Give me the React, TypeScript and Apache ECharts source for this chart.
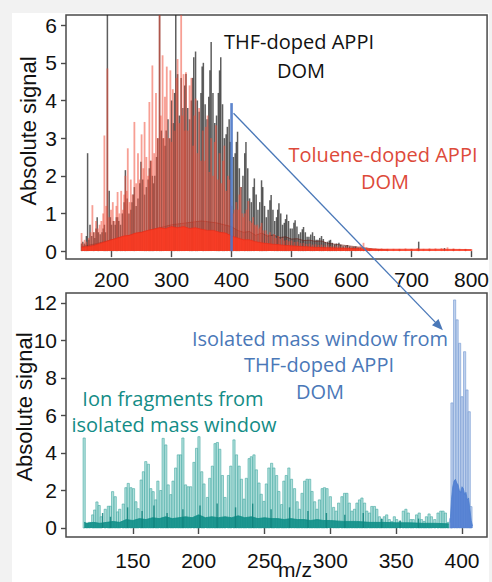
import React, { useEffect, useRef } from "react";
import * as echarts from "echarts";

// ---------- top panel data (m/z, absolute signal) ----------
const thfPeaks: [number, number][] = [
  [150,0.2],[152,0.25],[155,0.2],[158,0.4],[160,2.6],[162,0.3],[164,0.7],[167,0.4],[170,0.5],[172,0.35],[174,0.6],[176,0.9],[178,0.5],[181,0.45],[184,0.5],[186,0.6],[188,0.7],[190,0.5],[193,6.5],[196,1.6],[198,0.9],[200,0.7],[203,0.8],[206,0.7],[208,0.9],[210,0.9],[212,0.8],[215,0.7],[218,1.0],[221,1.3],[223,2.15],[226,1.4],[229,1.0],[232,1.1],[234,1.3],[236,1.5],[238,1.7],[241,1.2],[244,1.4],[247,1.8],[249,2.37],[252,1.9],[255,1.5],[258,1.7],[261,1.9],[263,2.2],[265,2.4],[268,2.0],[270,1.8],[272,2.0],[275,2.5],[277,3.0],[280,6.5],[283,3.2],[286,3.0],[289,2.8],[291,3.2],[294,3.5],[297,3.0],[300,4.0],[303,3.4],[305,4.2],[307,6.5],[310,4.7],[313,3.6],[316,4.6],[319,3.8],[322,4.4],[324,4.7],[327,3.8],[330,3.5],[333,4.0],[335,4.6],[337,5.15],[340,5.3],[343,4.0],[346,3.7],[349,4.2],[351,4.9],[353,5.0],[356,3.9],[359,3.5],[362,4.1],[364,4.8],[366,5.55],[369,4.2],[372,3.4],[375,3.6],[378,4.2],[380,4.8],[382,5.15],[385,3.9],[388,3.0],[391,3.1],[393,3.3],[396,3.5],[398,2.9],[403,2.5],[406,2.6],[408,2.9],[410,3.17],[413,2.2],[416,1.7],[419,2.0],[422,2.6],[424,2.9],[427,2.2],[430,1.4],[433,1.3],[436,1.7],[438,1.93],[441,1.5],[444,1.1],[447,1.3],[450,1.88],[452,1.7],[455,1.2],[458,0.9],[461,1.1],[464,1.35],[466,1.49],[469,1.1],[472,0.8],[475,0.9],[477,1.1],[479,1.27],[482,1.0],[485,0.7],[488,0.75],[490,0.85],[492,0.97],[495,0.8],[498,0.6],[501,0.6],[504,0.75],[506,0.82],[509,0.65],[512,0.45],[515,0.5],[518,0.58],[520,0.64],[523,0.5],[526,0.38],[529,0.38],[532,0.44],[535,0.5],[538,0.4],[541,0.3],[544,0.3],[547,0.35],[550,0.4],[553,0.32],[556,0.24],[560,0.25],[563,0.28],[565,0.3],[568,0.22],[572,0.18],[575,0.2],[579,0.22],[582,0.17],[586,0.13],[590,0.14],[593,0.16],[597,0.12],[601,0.1],[604,0.11],[607,0.12],[611,0.09],[615,0.08],[620,0.08],[630,0.05],[645,0.04],[660,0.04],[680,0.04],[700,0.05],[712,0.25],[730,0.04],[755,0.08],[770,0.05],[790,0.04]
];

const thfBase: [number, number][] = [
  [150,0.12],[175,0.2],[200,0.3],[225,0.4],[250,0.5],[275,0.6],[300,0.7],[325,0.75],[350,0.8],[375,0.75],[400,0.65],[410,0.55],[420,0.5],[430,0.52],[440,0.42],[450,0.48],[460,0.4],[470,0.43],[480,0.36],[490,0.38],[500,0.32],[510,0.33],[520,0.28],[530,0.29],[540,0.26],[550,0.27],[560,0.21],[570,0.19],[580,0.17],[590,0.15],[600,0.13],[610,0.11],[620,0.09],[640,0.05],[660,0.03]
];

const toluenePeaks: [number, number][] = [
  [150,0.48],[152,0.2],[155,0.3],[158,0.25],[162,0.35],[165,0.5],[168,1.22],[171,0.5],[174,0.8],[177,0.6],[180,0.7],[183,0.8],[186,1.0],[188,3.07],[191,1.2],[193,4.85],[196,0.9],[199,1.1],[202,1.3],[205,0.8],[208,1.2],[210,1.57],[213,1.0],[216,1.6],[219,1.1],[221,1.5],[223,2.0],[225,1.6],[227,2.73],[230,1.3],[232,1.9],[235,1.5],[238,3.43],[241,1.8],[244,2.6],[247,1.9],[250,3.1],[253,2.2],[255,3.43],[258,2.5],[261,2.0],[263,3.96],[266,2.4],[268,4.93],[271,2.6],[274,4.2],[277,3.0],[280,6.4],[282,3.6],[285,5.2],[287,3.0],[289,4.1],[292,4.9],[295,3.0],[298,4.8],[300,2.9],[302,4.3],[305,3.2],[308,4.6],[310,5.1],[313,3.4],[316,6.4],[318,3.6],[320,4.7],[322,3.2],[324,4.75],[327,3.2],[330,4.4],[333,4.6],[336,2.8],[338,3.6],[340,4.05],[343,2.6],[346,3.8],[349,2.4],[352,3.2],[355,2.4],[357,3.3],[360,3.6],[363,2.1],[366,3.0],[369,2.0],[372,2.9],[374,3.34],[377,1.9],[380,2.6],[383,1.8],[386,2.4],[388,2.8],[391,1.6],[394,2.0],[397,1.9],[400,1.2],[402,1.0],[405,1.1],[408,1.3],[411,1.1],[413,1.5],[415,1.7],[418,1.0],[420,0.9],[422,1.0],[425,1.1],[428,1.33],[431,0.8],[434,0.75],[436,0.9],[439,0.7],[441,0.65],[443,0.7],[446,0.6],[448,0.65],[450,0.75],[453,0.55],[457,0.55],[460,0.45],[464,0.5],[467,0.4],[471,0.45],[474,0.35],[478,0.4],[481,0.32],[485,0.35],[488,0.28],[492,0.3],[496,0.26],[500,0.28],[505,0.24],[510,0.25],[515,0.21],[520,0.22],[525,0.19],[530,0.2],[535,0.17],[540,0.18],[545,0.16],[550,0.17],[555,0.15],[560,0.15],[565,0.14],[570,0.14],[575,0.13],[580,0.13],[585,0.12],[590,0.12],[595,0.11],[600,0.12],[605,0.1],[610,0.11],[615,0.15],[620,0.22],[625,0.1],[632,0.08],[640,0.07],[650,0.07],[660,0.06],[670,0.06],[680,0.06],[690,0.07],[700,0.06],[710,0.08],[720,0.06],[730,0.07],[740,0.07],[750,0.08],[760,0.1],[770,0.07],[780,0.06],[790,0.06],[800,0.05]
];

const tolueneBase: [number, number][] = [
  [150,0.1],[160,0.12],[170,0.15],[180,0.2],[190,0.25],[200,0.3],[210,0.35],[220,0.4],[230,0.42],[240,0.48],[250,0.5],[260,0.55],[270,0.58],[280,0.62],[290,0.6],[300,0.65],[310,0.62],[320,0.65],[330,0.6],[340,0.62],[350,0.58],[360,0.55],[370,0.55],[380,0.5],[390,0.48],[400,0.4],[410,0.35],[420,0.3],[430,0.3],[440,0.25],[450,0.22],[460,0.2],[470,0.18],[480,0.17],[490,0.15],[500,0.14],[520,0.12],[540,0.1],[560,0.09],[580,0.08],[600,0.07],[620,0.06],[650,0.05],[700,0.05],[750,0.05],[800,0.04]
];

const isolatedWindowTop: [number, number][] = [[400, 3.93]];

// ---------- bottom panel data ----------
const fragmentPeaks: [number, number][] = [
  [113,4.8],[115,0.25],[117,0.3],[119.5,0.7],[121,0.96],[122.7,1.39],[124.4,1.2],[126,0.6],[129,1.0],[131.4,1.16],[132.9,1.16],[134.6,1.94],[136.6,1.67],[138.4,0.86],[140,1.0],[142.7,1.28],[144.7,2.15],[146.5,2.38],[148.5,2.15],[150.5,2.1],[152.3,1.4],[154,1.03],[156.3,2.56],[158,3.0],[159.8,3.54],[161.8,3.4],[163.6,2.1],[165.4,1.94],[167.4,1.5],[169,2.5],[171.2,2.0],[173,4.78],[175,4.43],[176.8,2.3],[178.8,1.78],[180.5,2.5],[182.5,3.2],[184.5,3.9],[186.3,3.9],[188,4.8],[190,2.3],[192,2.2],[193.9,2.2],[196.4,3.5],[198.4,4.25],[200.2,4.87],[202.3,3.0],[204,2.35],[206.6,1.63],[208.4,2.65],[210.4,3.3],[212.4,4.5],[214.2,4.56],[216,4.2],[218,2.8],[220,1.63],[222.6,2.8],[224.4,3.3],[226.8,4.7],[228.7,3.9],[230.7,3.3],[232.5,2.6],[234.5,1.54],[236.2,2.65],[238.3,3.7],[240,3.8],[242,3.9],[243.8,3.1],[245.8,2.4],[247.5,1.8],[249.6,1.42],[251.4,2.35],[253.3,3.2],[255.4,3.45],[257.1,3.2],[259.2,2.8],[260.9,1.95],[263,1.25],[264.7,2.5],[266.5,2.8],[268.5,3.2],[270.5,2.6],[272.8,2.1],[274.8,1.4],[276.5,1.0],[278.5,1.85],[280.5,2.5],[282.3,2.6],[284.3,2.6],[286.1,1.95],[288.1,1.4],[289.9,1.0],[291.7,1.5],[293.8,2.1],[295.5,2.15],[297.5,2.1],[300,1.67],[302.5,1.1],[304.5,0.9],[306.3,1.33],[308.8,1.67],[310.8,1.85],[312.6,1.85],[314.4,1.33],[316.4,0.9],[318.4,1.0],[320.2,1.33],[322.2,1.5],[324,1.6],[326,1.33],[327.7,0.9],[329.8,0.8],[331.5,1.15],[333.5,1.15],[335.3,1.0],[337.3,0.6],[339,0.45],[341,0.6],[342.8,0.7],[344.8,0.45],[346.6,0.35],[348.6,0.6],[350.4,0.45],[352.9,0.35],[355.4,0.9],[357.4,1.0],[359.2,0.8],[361.2,0.45],[363,0.45],[365.5,0.7],[367.5,0.8],[369.3,0.45],[371.3,0.35],[373,0.6],[375,0.75],[376.8,0.6],[379.3,0.45],[381.8,0.8],[383.9,0.9],[385.6,0.9],[387.4,0.8],[389.5,0.3]
];

const fragmentDarkPeaks: [number, number][] = [
  [127,0.8],[133,0.6],[146,1.1],[157,0.9],[166,1.2],[176,0.8],[188,1.0],[201,1.2],[214,1.3],[228,1.1],[241,1.3],[255,1.0],[269,1.1],[283,0.9],[297,0.8],[311,0.7],[325,0.8],[339,0.5],[353,0.4],[367,0.5]
];

const fragmentBase: [number, number][] = [
  [113,0.3],[115,0.25],[120,0.3],[125,0.25],[130,0.3],[135,0.35],[140,0.3],[145,0.45],[150,0.4],[155,0.5],[160,0.45],[165,0.55],[170,0.5],[175,0.6],[180,0.5],[185,0.55],[190,0.6],[195,0.55],[200,0.7],[205,0.55],[210,0.6],[215,0.55],[220,0.6],[225,0.55],[230,0.65],[235,0.55],[240,0.6],[245,0.5],[250,0.55],[255,0.5],[260,0.5],[265,0.45],[270,0.5],[275,0.45],[280,0.45],[285,0.4],[290,0.45],[295,0.4],[300,0.4],[310,0.35],[320,0.35],[330,0.3],[340,0.3],[350,0.28],[360,0.28],[370,0.25],[380,0.25],[390,0.22]
];

const windowPeaks: [number, number][] = [
  [391.5,0.5],[392.4,6.67],[394.4,12.16],[396.3,11.1],[398.2,9.85],[400,7.0],[402,9.4],[403.8,7.36],[405.5,6.2],[406.8,1.14]
];

const windowBase: [number, number][] = [
  [391,0.3],[392,1.5],[393,2.2],[394,2.5],[395,2.6],[396,2.4],[397,2.3],[398,2.0],[399,1.9],[400,2.2],[401,2.1],[402,1.8],[403,1.9],[404,1.5],[405,1.6],[406,1.0],[407,0.4],[408,0.1]
];

// arrow from the isolated window (top panel) to its spectrum (bottom panel)
const arrowStart: [number, number] = [403.3, 3.66];
const arrowEnd: [number, number] = [385.5, 10.55];

// ---------- ticks ----------
const topXTicks = [200, 300, 400, 500, 600, 700, 800];
const topYTicks = [0, 1, 2, 3, 4, 5, 6];
const botXTicks = [150, 200, 250, 300, 350, 400];
const botYTicks = [0, 2, 4, 6, 8, 10, 12];

const AXIS_FONT = "'Liberation Sans', Arial, sans-serif";
const NOTE_FONT = "'Open Sans', 'Noto Sans', sans-serif";

function stick(width: number, fill: string, stroke?: string) {
  return (params: any, api: any) => {
    const x = api.value(0);
    const y = api.value(1);
    const top = api.coord([x, y]);
    const base = api.coord([x, 0]);
    const cs = params.coordSys;
    const yTop = Math.max(top[1], cs.y);
    return {
      type: "rect",
      shape: { x: top[0] - width / 2, y: yTop, width, height: Math.max(0, base[1] - yTop) },
      style: { fill, stroke: stroke || null, lineWidth: stroke ? 0.6 : 0 },
    };
  };
}

function xAxisCfg(gridIndex: number, min: number, max: number, ticks: number[], margin: number) {
  return {
    type: "value", gridIndex, min, max,
    axisLine: { show: false },
    splitLine: { show: false },
    axisTick: { show: true, inside: false, length: 6, customValues: ticks, lineStyle: { color: "#4a4a4a", width: 1.4 } },
    axisLabel: { customValues: ticks, fontSize: 21, color: "#111", fontFamily: AXIS_FONT, margin },
  };
}
function yAxisCfg(gridIndex: number, min: number, max: number, ticks: number[]) {
  return {
    type: "value", gridIndex, min, max,
    axisLine: { show: false },
    splitLine: { show: false },
    axisTick: { show: true, inside: false, length: 5, customValues: ticks, lineStyle: { color: "#4a4a4a", width: 1.4 } },
    axisLabel: { customValues: ticks, fontSize: 21, color: "#111", fontFamily: AXIS_FONT, margin: 9 },
  };
}

function area(xi: number, data: [number, number][], line: string, fill: string, z: number) {
  return {
    type: "line", xAxisIndex: xi, yAxisIndex: xi, data, showSymbol: false, z,
    lineStyle: { width: 0.8, color: line },
    areaStyle: { color: fill, opacity: 1 },
    silent: true,
  };
}

function note(text: string, x: number, y: number, color: string, size = 20) {
  return {
    type: "text", x, y, z: 50,
    style: { text, fill: color, font: `${size}px ${NOTE_FONT}`, align: "center", verticalAlign: "middle" },
  };
}

export default function App() {
  const ref = useRef<HTMLDivElement>(null);
  useEffect(() => {
    if (!ref.current) return;
    const chart = echarts.init(ref.current, undefined, { renderer: "svg" });
    chart.setOption({
      animation: false,
      backgroundColor: "transparent",
      grid: [
        { left: 66, top: 15, width: 422, height: 244, show: true, borderColor: "#4a4a4a", borderWidth: 1.5, backgroundColor: "transparent" },
        { left: 66, top: 293, width: 421, height: 244, show: true, borderColor: "#4a4a4a", borderWidth: 1.5, backgroundColor: "transparent" },
      ],
      xAxis: [xAxisCfg(0, 124, 826, topXTicks, 10), xAxisCfg(1, 99.2, 419, botXTicks, 13)],
      yAxis: [yAxisCfg(0, -0.21, 6.27, topYTicks), yAxisCfg(1, -0.48, 12.53, botYTicks)],
      series: [
        { type: "custom", xAxisIndex: 0, yAxisIndex: 0, data: thfPeaks, renderItem: stick(1.5, "rgba(40,40,40,0.75)"), z: 2 },
        area(0, thfBase, "rgba(110,25,15,0.7)", "rgba(80,40,35,0.35)", 3),
        { type: "custom", xAxisIndex: 0, yAxisIndex: 0, data: toluenePeaks, renderItem: stick(1.8, "rgba(240,80,60,0.55)"), z: 4 },
        area(0, tolueneBase, "rgba(235,45,25,0.9)", "rgba(255,55,30,0.85)", 5),
        { type: "custom", xAxisIndex: 0, yAxisIndex: 0, data: isolatedWindowTop, renderItem: stick(2.6, "rgba(75,120,200,0.9)"), z: 6 },
        { type: "custom", xAxisIndex: 1, yAxisIndex: 1, data: fragmentPeaks, renderItem: stick(2.2, "rgba(150,212,207,0.75)", "#45aaa3"), z: 2 },
        area(1, fragmentBase, "#0f8f88", "rgba(15,143,136,0.9)", 3),
        { type: "custom", xAxisIndex: 1, yAxisIndex: 1, data: fragmentDarkPeaks, renderItem: stick(1.4, "rgba(15,130,124,0.85)"), z: 4 },
        { type: "custom", xAxisIndex: 1, yAxisIndex: 1, data: windowPeaks, renderItem: stick(2.2, "rgba(175,198,232,0.8)", "#7399d2"), z: 2 },
        area(1, windowBase, "#4d7fd0", "rgba(80,125,210,0.9)", 3),
      ],
    });

    const p1 = chart.convertToPixel({ gridIndex: 0 } as any, arrowStart) as number[];
    const p2 = chart.convertToPixel({ gridIndex: 1 } as any, arrowEnd) as number[];
    const dx = p2[0] - p1[0], dy = p2[1] - p1[1];
    const len = Math.sqrt(dx * dx + dy * dy);
    const ux = dx / len, uy = dy / len;
    const head = 11, half = 4.5;
    const bx = p2[0] - ux * head, by = p2[1] - uy * head;
    const blue = "#4a78b8";

    chart.setOption({
      graphic: [
        { type: "line", z: 40, shape: { x1: p1[0], y1: p1[1], x2: bx + ux * 2, y2: by + uy * 2 }, style: { stroke: blue, lineWidth: 1.3 } },
        { type: "polygon", z: 40, shape: { points: [[p2[0], p2[1]], [bx - uy * half, by + ux * half], [bx + uy * half, by - ux * half]] }, style: { fill: blue } },
        note("THF-doped APPI", 299, 41, "#111"),
        note("DOM", 301, 70, "#111"),
        note("Toluene-doped APPI", 383, 154, "#dd4a3a"),
        note("DOM", 385, 181, "#dd4a3a"),
        note("Isolated mass window from", 320, 338, "#4a78b8"),
        note("THF-doped APPI", 319, 364, "#4a78b8"),
        note("DOM", 320, 391, "#4a78b8"),
        note("Ion fragments from", 173, 398, "#138c86"),
        note("isolated mass window", 174, 424, "#138c86"),
        {
          type: "text", x: 28, y: 131, rotation: Math.PI / 2, z: 50,
          style: { text: "Absolute signal", fill: "#111", font: `22px ${AXIS_FONT}`, align: "center", verticalAlign: "middle" },
        },
        {
          type: "text", x: 24, y: 407, rotation: Math.PI / 2, z: 50,
          style: { text: "Absolute signal", fill: "#111", font: `22px ${AXIS_FONT}`, align: "center", verticalAlign: "middle" },
        },
        {
          type: "text", x: 295, y: 559, z: 50,
          style: { text: "m/z", fill: "#111", font: `21px ${AXIS_FONT}`, align: "center", verticalAlign: "top" },
        },
      ],
    });
    return () => chart.dispose();
  }, []);

  return (
    <div style={{ position: "fixed", left: 0, top: 0, width: 492, height: 582, background: "#f2f2f2", overflow: "hidden" }}>
      <div style={{ position: "absolute", left: 12, top: 13, width: 477, height: 569, background: "#ffffff" }} />
      <div ref={ref} style={{ position: "absolute", left: 0, top: 0, width: 492, height: 582 }} />
    </div>
  );
}
